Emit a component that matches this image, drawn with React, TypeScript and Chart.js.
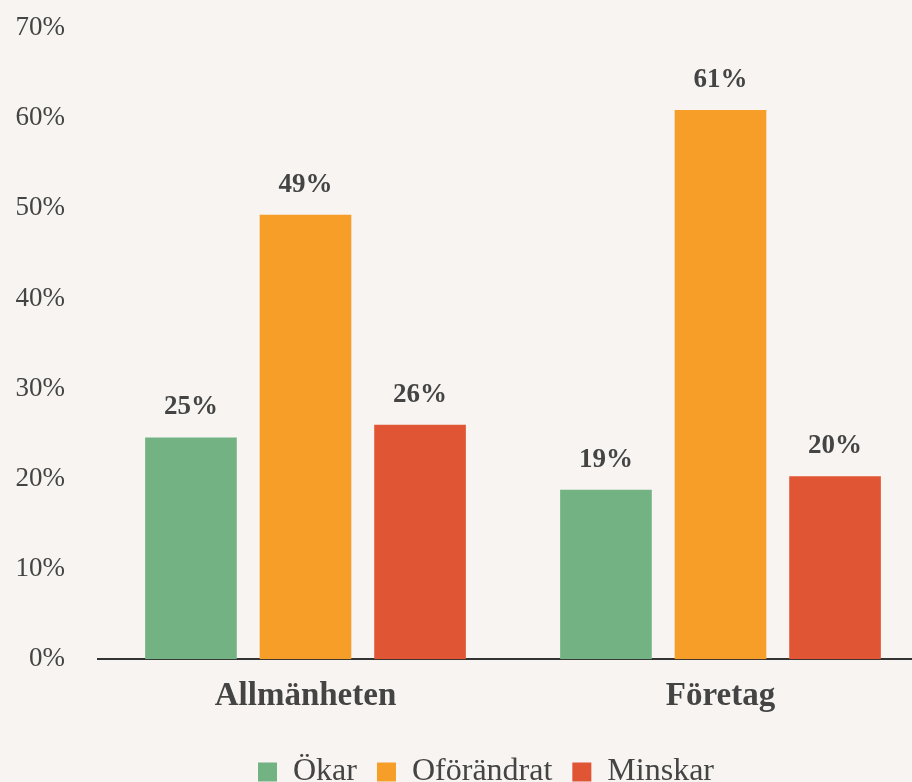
import React, { useEffect, useRef } from "react";
import { Chart, registerables } from "chart.js";

Chart.register(...registerables);

const categories = ["Allmänheten", "Företag"];
const seriesNames = ["Ökar", "Oförändrat", "Minskar"];
const okar = [24.6, 18.8];
const oforandrat = [49.3, 60.9];
const minskar = [26.0, 20.3];
const valueLabels = [
  ["25%", "19%"],
  ["49%", "61%"],
  ["26%", "20%"],
];
const colors = ["#72b283", "#f69e28", "#e05533"];
const FONT = "'Liberation Serif', 'DejaVu Serif', serif";
const TEXT = "#444444";

const valueLabelPlugin = {
  id: "valueLabels",
  afterDatasetsDraw(chart: any) {
    const ctx = chart.ctx;
    ctx.save();
    ctx.font = `bold 27px ${FONT}`;
    ctx.fillStyle = TEXT;
    ctx.textAlign = "center";
    ctx.textBaseline = "middle";
    chart.data.datasets.forEach((ds: any, i: number) => {
      const meta = chart.getDatasetMeta(i);
      meta.data.forEach((el: any, j: number) => {
        ctx.fillText(valueLabels[i][j], el.x, el.y - 30);
      });
    });
    ctx.restore();
  },
};

const legendShiftPlugin = {
  id: "legendShift",
  afterLayout(chart: any) {
    if (chart.legend) {
      chart.legend.left += 22;
      chart.legend.right += 22;
    }
  },
};

export default function App() {
  const ref = useRef<HTMLCanvasElement>(null);
  useEffect(() => {
    document.body.style.background = "#f7f4f1";
    const chart = new Chart(ref.current!, {
      type: "bar",
      data: {
        labels: categories,
        datasets: [okar, oforandrat, minskar].map((d, i) => ({
          label: seriesNames[i],
          data: d,
          backgroundColor: colors[i],
          borderWidth: 0,
          barPercentage: 0.8,
          categoryPercentage: 0.828,
        })),
      },
      options: {
        animation: false,
        responsive: false,
        maintainAspectRatio: false,
        layout: { padding: { top: 28, right: 44, left: 0, bottom: 0 } },
        plugins: {
          tooltip: { enabled: false },
          legend: {
            position: "bottom",
            title: { display: true, text: " ", font: { size: 1 }, padding: { top: 5, bottom: 5 } },
            labels: {
              boxWidth: 19,
              boxHeight: 19,
              padding: 20,
              color: TEXT,
              font: { family: FONT, size: 32 },
            },
          },
        },
        scales: {
          x: {
            grid: { display: false },
            border: { display: true, color: "#333333", width: 2 },
            ticks: {
              color: TEXT,
              padding: 9,
              font: { family: FONT, size: 33, weight: "bold" },
            },
          },
          y: {
            min: 0,
            max: 70,
            grid: { display: false, drawTicks: false },
            border: { display: false },
            afterFit: (scale: any) => {
              scale.width = 98;
              scale.paddingTop = 0;
              scale.paddingBottom = 0;
            },
            ticks: {
              stepSize: 10,
              color: TEXT,
              padding: 33,
              font: { family: FONT, size: 27 },
              callback: (v: any) => v + "%",
            },
          },
        },
      },
      plugins: [valueLabelPlugin, legendShiftPlugin],
    });
    return () => chart.destroy();
  }, []);
  return (
    <div style={{ position: "fixed", left: 0, top: 0, width: 972, height: 798, background: "#f7f4f1" }}>
      <canvas ref={ref} width={972} height={798} style={{ width: 972, height: 798 }} />
    </div>
  );
}
